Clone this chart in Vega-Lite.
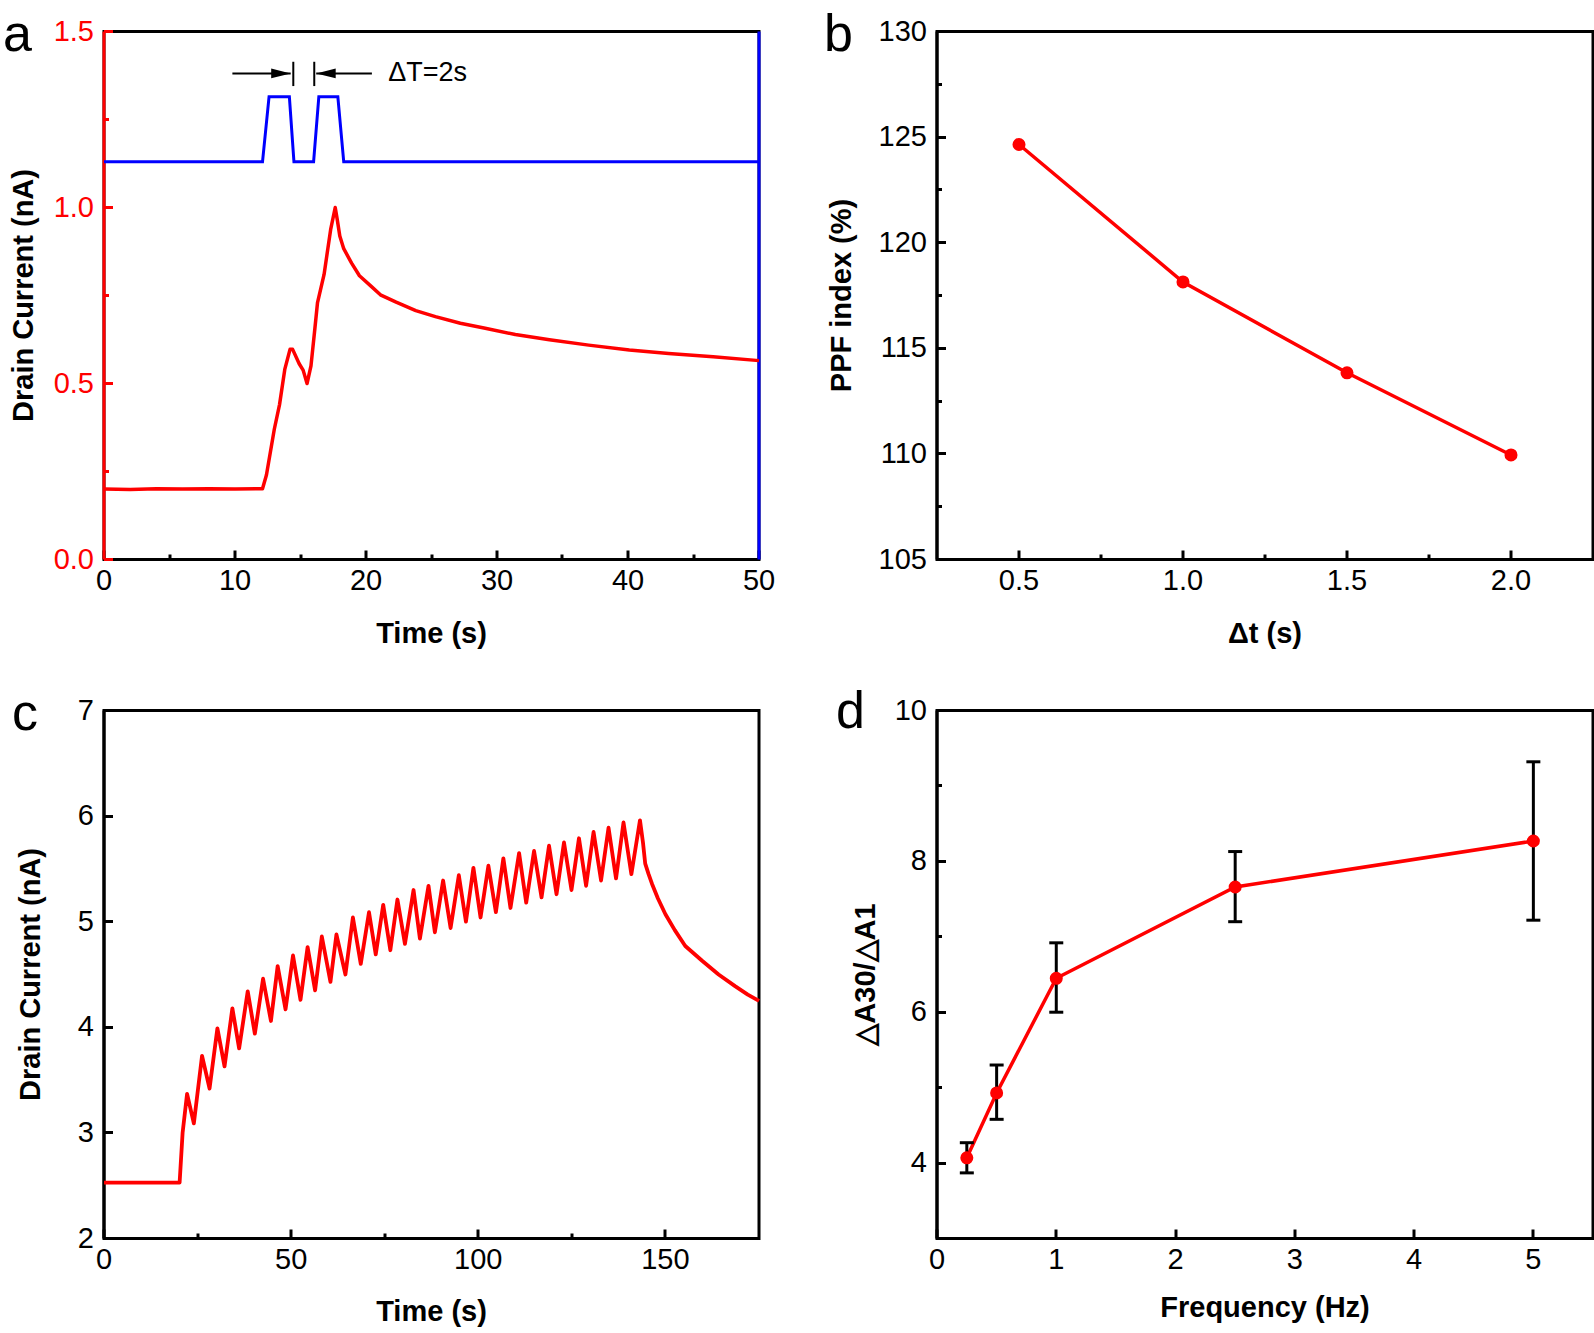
{
  "$schema": "https://vega.github.io/schema/vega-lite/v6.json",
  "padding": {"left": 1, "top": 6.5, "right": 0, "bottom": 0},
  "background": "white",
  "columns": 2,
  "spacing": {"row": 151, "column": 178},
  "bounds": "flush",
  "datasets": {
    "currentA": [
      {"t": 0, "I": 0.2}, {"t": 2, "I": 0.199}, {"t": 4, "I": 0.201}, {"t": 6, "I": 0.2}, {"t": 8, "I": 0.201}, {"t": 10, "I": 0.2}, {"t": 12.1, "I": 0.201},
      {"t": 12.4, "I": 0.24}, {"t": 13.0, "I": 0.37}, {"t": 13.4, "I": 0.44}, {"t": 13.8, "I": 0.54}, {"t": 14.2, "I": 0.597}, {"t": 14.4, "I": 0.597},
      {"t": 14.9, "I": 0.556}, {"t": 15.2, "I": 0.538}, {"t": 15.5, "I": 0.5}, {"t": 15.8, "I": 0.55}, {"t": 16.1, "I": 0.657}, {"t": 16.3, "I": 0.73},
      {"t": 16.8, "I": 0.81}, {"t": 17.3, "I": 0.937}, {"t": 17.65, "I": 1.0}, {"t": 17.8, "I": 0.967}, {"t": 18.0, "I": 0.919}, {"t": 18.3, "I": 0.883},
      {"t": 18.9, "I": 0.842}, {"t": 19.5, "I": 0.806}, {"t": 20.4, "I": 0.776}, {"t": 21.1, "I": 0.752}, {"t": 22.3, "I": 0.731}, {"t": 23.8, "I": 0.707},
      {"t": 25.3, "I": 0.69}, {"t": 27.2, "I": 0.671}, {"t": 29.1, "I": 0.657}, {"t": 31.4, "I": 0.639}, {"t": 34.0, "I": 0.624}, {"t": 37.0, "I": 0.609},
      {"t": 40.1, "I": 0.595}, {"t": 43.1, "I": 0.585}, {"t": 46.5, "I": 0.576}, {"t": 50, "I": 0.565}
    ],
    "lightA": [
      {"t": 0, "light": 0}, {"t": 12.1, "light": 0}, {"t": 12.6, "light": 1}, {"t": 14.15, "light": 1}, {"t": 14.5, "light": 0},
      {"t": 16.0, "light": 0}, {"t": 16.4, "light": 1}, {"t": 17.85, "light": 1}, {"t": 18.3, "light": 0}, {"t": 50, "light": 0}
    ],
    "arrowsA": [
      {"tail": 9.8, "head": 14.25, "I": 1.381, "dir": "right"},
      {"tail": 20.45, "head": 16.2, "I": 1.381, "dir": "left"}
    ],
    "barsA": [
      {"t": 14.45, "lo": 1.345, "hi": 1.414},
      {"t": 16.05, "lo": 1.345, "hi": 1.414}
    ],
    "labelA": [{"t": 21.7, "I": 1.381, "label": "ΔT=2s"}],
    "ppfB": [
      {"dt": 0.5, "ppf": 124.65}, {"dt": 1.0, "ppf": 118.14}, {"dt": 1.5, "ppf": 113.84}, {"dt": 2.0, "ppf": 109.95}
    ],
    "currentC": [
      {"t": 0, "I": 2.53}, {"t": 20.2, "I": 2.53}, {"t": 21.0, "I": 3.0}, {"t": 22.2, "I": 3.37}, {"t": 24.0, "I": 3.09},
      {"t": 26.2, "I": 3.73}, {"t": 28.2, "I": 3.42}, {"t": 30.3, "I": 3.99}, {"t": 32.2, "I": 3.63}, {"t": 34.3, "I": 4.18},
      {"t": 36.1, "I": 3.8}, {"t": 38.4, "I": 4.34}, {"t": 40.3, "I": 3.94}, {"t": 42.5, "I": 4.46}, {"t": 44.6, "I": 4.06},
      {"t": 46.4, "I": 4.58}, {"t": 48.5, "I": 4.17}, {"t": 50.5, "I": 4.68}, {"t": 52.5, "I": 4.26}, {"t": 54.4, "I": 4.76},
      {"t": 56.4, "I": 4.35}, {"t": 58.2, "I": 4.86}, {"t": 60.5, "I": 4.43}, {"t": 62.1, "I": 4.88}, {"t": 64.5, "I": 4.5},
      {"t": 66.5, "I": 5.04}, {"t": 68.6, "I": 4.6}, {"t": 70.8, "I": 5.09}, {"t": 72.6, "I": 4.69}, {"t": 74.6, "I": 5.16},
      {"t": 76.5, "I": 4.73}, {"t": 78.4, "I": 5.21}, {"t": 80.4, "I": 4.79}, {"t": 82.7, "I": 5.3}, {"t": 84.4, "I": 4.84},
      {"t": 86.7, "I": 5.34}, {"t": 88.4, "I": 4.9}, {"t": 90.6, "I": 5.39}, {"t": 92.6, "I": 4.94}, {"t": 94.8, "I": 5.44},
      {"t": 96.7, "I": 5.0}, {"t": 98.7, "I": 5.51}, {"t": 100.6, "I": 5.04}, {"t": 102.7, "I": 5.53}, {"t": 104.7, "I": 5.09},
      {"t": 106.7, "I": 5.6}, {"t": 108.6, "I": 5.13}, {"t": 110.9, "I": 5.65}, {"t": 112.8, "I": 5.18}, {"t": 114.9, "I": 5.67},
      {"t": 116.9, "I": 5.23}, {"t": 118.9, "I": 5.72}, {"t": 120.9, "I": 5.26}, {"t": 122.9, "I": 5.75}, {"t": 124.9, "I": 5.3},
      {"t": 126.9, "I": 5.79}, {"t": 128.8, "I": 5.34}, {"t": 130.8, "I": 5.85}, {"t": 132.8, "I": 5.39}, {"t": 134.8, "I": 5.89},
      {"t": 136.8, "I": 5.41}, {"t": 138.8, "I": 5.94}, {"t": 140.9, "I": 5.45}, {"t": 143.2, "I": 5.96}, {"t": 144.0, "I": 5.75},
      {"t": 144.6, "I": 5.55}, {"t": 145.5, "I": 5.45}, {"t": 146.4, "I": 5.36}, {"t": 148.0, "I": 5.22}, {"t": 150.0, "I": 5.07},
      {"t": 152.5, "I": 4.92}, {"t": 155.3, "I": 4.77}, {"t": 159.8, "I": 4.63}, {"t": 164.2, "I": 4.5}, {"t": 168.6, "I": 4.39},
      {"t": 172.0, "I": 4.31}, {"t": 175.0, "I": 4.25}
    ],
    "ratioD": [
      {"f": 0.25, "r": 4.07, "lo": 3.87, "hi": 4.27},
      {"f": 0.5, "r": 4.93, "lo": 4.58, "hi": 5.3},
      {"f": 1.0, "r": 6.45, "lo": 6.0, "hi": 6.92},
      {"f": 2.5, "r": 7.66, "lo": 7.2, "hi": 8.13},
      {"f": 5.0, "r": 8.27, "lo": 7.22, "hi": 9.32}
    ]
  },
  "concat": [
    {
      "width": 655,
      "height": 528,
      "title": {"text": "a", "dx": -101, "dy": 48},
      "layer": [
        {
          "layer": [
            {
              "data": {"name": "currentA"},
              "mark": {"type": "line", "color": "#ff0000", "strokeWidth": 3.5, "strokeJoin": "round"},
              "encoding": {
                "x": {
                  "field": "t", "type": "quantitative",
                  "scale": {"domain": [0, 50], "nice": false, "zero": false},
                  "axis": {
                    "title": "Time (s)",
                    "values": [0, 5, 10, 15, 20, 25, 30, 35, 40, 45, 50],
                    "labelExpr": "datum.value % 10 === 0 ? datum.label : ''",
                    "tickSize": {"condition": {"test": "datum.value % 10 === 0", "value": -9}, "value": -5},
                    "labelPadding": 16,
                    "titlePadding": 20
                  }
                },
                "y": {
                  "field": "I", "type": "quantitative",
                  "scale": {"domain": [0, 1.5], "nice": false},
                  "axis": {
                    "title": "Drain Current (nA)",
                    "values": [0, 0.25, 0.5, 0.75, 1, 1.25, 1.5],
                    "format": ".1f",
                    "labelExpr": "datum.value % 0.5 === 0 ? datum.label : ''",
                    "tickSize": {"condition": {"test": "datum.value % 0.5 === 0", "value": -9}, "value": -5},
                    "labelPadding": 19,
                    "titlePadding": 15,
                    "domainColor": "#ff0000",
                    "tickColor": "#ff0000",
                    "labelColor": "#ff0000"
                  }
                }
              }
            },
            {
              "data": {"name": "arrowsA"},
              "mark": {"type": "rule", "color": "#000000", "strokeWidth": 2},
              "encoding": {
                "x": {"field": "tail", "type": "quantitative"},
                "x2": {"field": "head"},
                "y": {"field": "I", "type": "quantitative"}
              }
            },
            {
              "data": {"name": "arrowsA"},
              "mark": {"type": "point", "filled": true, "color": "#000000", "opacity": 1, "size": 380},
              "encoding": {
                "x": {"field": "head", "type": "quantitative"},
                "y": {"field": "I", "type": "quantitative"},
                "shape": {
                  "field": "dir", "type": "nominal",
                  "scale": {"domain": ["right", "left"], "range": ["M-2,-0.5L0,0L-2,0.5Z", "M2,-0.5L0,0L2,0.5Z"]},
                  "legend": null
                }
              }
            },
            {
              "data": {"name": "barsA"},
              "mark": {"type": "rule", "color": "#000000", "strokeWidth": 2},
              "encoding": {
                "x": {"field": "t", "type": "quantitative"},
                "y": {"field": "lo", "type": "quantitative"},
                "y2": {"field": "hi"}
              }
            },
            {
              "data": {"name": "labelA"},
              "mark": {"type": "text", "align": "left", "baseline": "middle", "fontSize": 27, "color": "#000000", "font": "Liberation Sans"},
              "encoding": {
                "x": {"field": "t", "type": "quantitative"},
                "y": {"field": "I", "type": "quantitative"},
                "text": {"field": "label"}
              }
            }
          ]
        },
        {
          "data": {"name": "lightA"},
          "mark": {"type": "line", "color": "#0000ff", "strokeWidth": 3},
          "encoding": {
            "x": {"field": "t", "type": "quantitative"},
            "y": {
              "field": "light", "type": "quantitative",
              "scale": {"domain": [-6.1, 2.0], "nice": false, "zero": false},
              "axis": {"orient": "right", "title": null, "labels": false, "ticks": false, "domainColor": "#0000ff", "domainWidth": 3}
            }
          }
        }
      ],
      "resolve": {"scale": {"y": "independent"}}
    },
    {
      "width": 656,
      "height": 528,
      "title": {"text": "b", "dx": -113, "dy": 48},
      "data": {"name": "ppfB"},
      "encoding": {
        "x": {
          "field": "dt", "type": "quantitative",
          "scale": {"domain": [0.25, 2.25], "nice": false, "zero": false},
          "axis": {
            "title": "Δt (s)",
            "values": [0.5, 0.75, 1, 1.25, 1.5, 1.75, 2],
            "format": ".1f",
            "labelExpr": "datum.value % 0.5 === 0 ? datum.label : ''",
            "tickSize": {"condition": {"test": "datum.value % 0.5 === 0", "value": -9}, "value": -5},
            "labelPadding": 16,
            "titlePadding": 20
          }
        },
        "y": {
          "field": "ppf", "type": "quantitative",
          "scale": {"domain": [105, 130], "nice": false, "zero": false},
          "axis": {
            "title": "PPF index (%)",
            "values": [105, 107.5, 110, 112.5, 115, 117.5, 120, 122.5, 125, 127.5, 130],
            "format": "d",
            "labelExpr": "datum.value % 5 === 0 ? datum.label : ''",
            "tickSize": {"condition": {"test": "datum.value % 5 === 0", "value": -9}, "value": -5},
            "labelPadding": 19,
            "titlePadding": 22
          }
        }
      },
      "layer": [
        {"mark": {"type": "line", "color": "#ff0000", "strokeWidth": 3.5}},
        {"mark": {"type": "circle", "color": "#ff0000", "size": 170, "opacity": 1}}
      ]
    },
    {
      "width": 655,
      "height": 528,
      "title": {"text": "c", "dx": -92, "dy": 48.5},
      "data": {"name": "currentC"},
      "mark": {"type": "line", "color": "#ff0000", "strokeWidth": 3.8, "strokeJoin": "round"},
      "encoding": {
        "x": {
          "field": "t", "type": "quantitative",
          "scale": {"domain": [0, 175], "nice": false, "zero": false},
          "axis": {
            "title": "Time (s)",
            "values": [0, 25, 50, 75, 100, 125, 150],
            "format": "d",
            "labelExpr": "datum.value % 50 === 0 ? datum.label : ''",
            "tickSize": {"condition": {"test": "datum.value % 50 === 0", "value": -9}, "value": -5},
            "labelPadding": 16,
            "titlePadding": 19
          }
        },
        "y": {
          "field": "I", "type": "quantitative",
          "scale": {"domain": [2, 7], "nice": false, "zero": false},
          "axis": {
            "title": "Drain Current (nA)",
            "values": [2, 2.5, 3, 3.5, 4, 4.5, 5, 5.5, 6, 6.5, 7],
            "format": "d",
            "labelExpr": "datum.value % 1 === 0 ? datum.label : ''",
            "tickSize": {"condition": {"test": "datum.value % 1 === 0", "value": -9}, "value": -5},
            "labelPadding": 19,
            "titlePadding": 32
          }
        }
      }
    },
    {
      "width": 656,
      "height": 528,
      "title": {"text": "d", "dx": -101, "dy": 46},
      "data": {"name": "ratioD"},
      "encoding": {
        "x": {
          "field": "f", "type": "quantitative",
          "scale": {"domain": [0, 5.5], "nice": false, "zero": false},
          "axis": {
            "title": "Frequency (Hz)",
            "values": [0, 0.5, 1, 1.5, 2, 2.5, 3, 3.5, 4, 4.5, 5],
            "format": "d",
            "labelExpr": "datum.value % 1 === 0 ? datum.label : ''",
            "tickSize": {"condition": {"test": "datum.value % 1 === 0", "value": -9}, "value": -5},
            "labelPadding": 16,
            "titlePadding": 19
          }
        }
      },
      "layer": [
        {
          "mark": {"type": "line", "color": "#ff0000", "strokeWidth": 3.5},
          "encoding": {
            "y": {
              "field": "r", "type": "quantitative",
              "scale": {"domain": [3, 10], "nice": false, "zero": false},
              "axis": {
                "title": "△A30/△A1",
                "values": [4, 5, 6, 7, 8, 9, 10],
                "format": "d",
                "labelExpr": "datum.value % 2 === 0 ? datum.label : ''",
                "tickSize": {"condition": {"test": "datum.value % 2 === 0", "value": -9}, "value": -5},
                "labelPadding": 19,
                "titlePadding": 14
              }
            }
          }
        },
        {
          "mark": {"type": "rule", "color": "#000000", "strokeWidth": 3},
          "encoding": {
            "y": {"field": "lo", "type": "quantitative"},
            "y2": {"field": "hi"}
          }
        },
        {
          "mark": {"type": "tick", "orient": "horizontal", "color": "#000000", "size": 14, "thickness": 3, "opacity": 1},
          "encoding": {"y": {"field": "lo", "type": "quantitative"}}
        },
        {
          "mark": {"type": "tick", "orient": "horizontal", "color": "#000000", "size": 14, "thickness": 3, "opacity": 1},
          "encoding": {"y": {"field": "hi", "type": "quantitative"}}
        },
        {
          "mark": {"type": "circle", "color": "#ff0000", "size": 170, "opacity": 1},
          "encoding": {"y": {"field": "r", "type": "quantitative"}}
        }
      ]
    }
  ],
  "config": {
    "font": "Liberation Sans",
    "view": {"stroke": "#000000", "strokeWidth": 3},
    "axis": {
      "grid": false,
      "translate": 0,
      "domainColor": "#000000",
      "domainWidth": 3,
      "tickColor": "#000000",
      "tickWidth": 3,
      "labelFont": "Liberation Sans",
      "labelFontSize": 29,
      "labelColor": "#000000",
      "titleFont": "Liberation Sans",
      "titleFontSize": 29,
      "titleFontWeight": "bold",
      "titleColor": "#000000",
      "labelFlush": false,
      "labelOverlap": false,
      "zindex": 1
    },
    "title": {
      "font": "Liberation Sans",
      "fontSize": 52,
      "fontWeight": "normal",
      "color": "#000000",
      "anchor": "start",
      "frame": "group",
      "offset": 0,
      "baseline": "alphabetic"
    }
  }
}
